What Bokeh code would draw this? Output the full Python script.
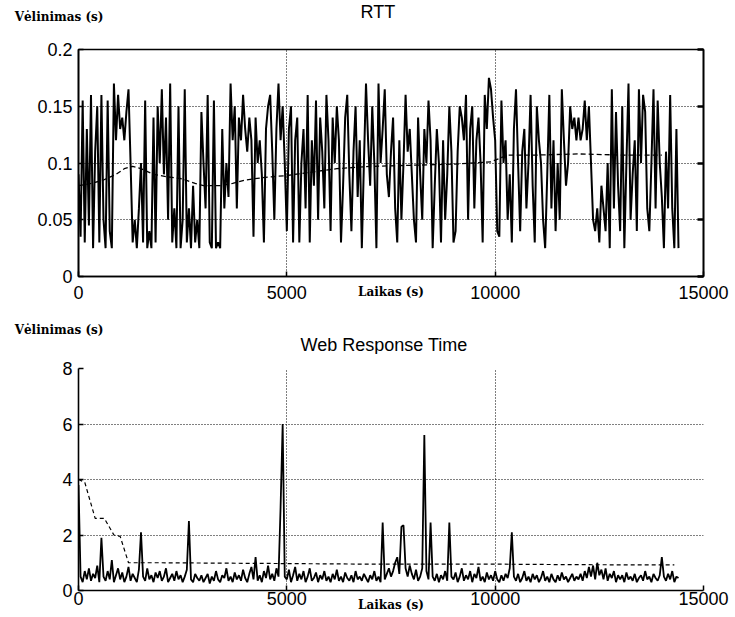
from bokeh.plotting import figure
from bokeh.layouts import column
from bokeh.models import Range1d, FixedTicker, LinearAxis, CustomJSTickFormatter
from bokeh.core.properties import value
from bokeh.embed import file_html
from bokeh.resources import INLINE

# ---------------- data ----------------
t_step = 50  # seconds between samples

rtt = [
    0.09, 0.035, 0.155, 0.03, 0.13, 0.045, 0.16, 0.025, 0.11, 0.15, 0.03, 0.16, 0.05, 0.025, 0.155, 0.04, 0.025, 0.17, 0.12, 0.16,
    0.13, 0.14, 0.12, 0.145, 0.165, 0.1, 0.03, 0.05, 0.025, 0.06, 0.1, 0.03, 0.155, 0.025, 0.04, 0.025, 0.14, 0.03, 0.15, 0.1,
    0.165, 0.09, 0.14, 0.05, 0.17, 0.03, 0.06, 0.025, 0.15, 0.025, 0.05, 0.165, 0.03, 0.06, 0.025, 0.08, 0.03, 0.05, 0.025, 0.145,
    0.1, 0.06, 0.16, 0.03, 0.025, 0.155, 0.025, 0.03, 0.025, 0.13, 0.06, 0.1, 0.07, 0.17, 0.12, 0.15, 0.06, 0.14, 0.12, 0.16,
    0.13, 0.11, 0.14, 0.12, 0.035, 0.14, 0.1, 0.12, 0.09, 0.03, 0.13, 0.15, 0.16, 0.11, 0.05, 0.13, 0.17, 0.12, 0.15, 0.1,
    0.04, 0.13, 0.15, 0.03, 0.12, 0.14, 0.03, 0.1, 0.13, 0.06, 0.16, 0.03, 0.12, 0.08, 0.155, 0.05, 0.14, 0.11, 0.06, 0.16,
    0.12, 0.04, 0.14, 0.1, 0.15, 0.12, 0.03, 0.08, 0.14, 0.16, 0.09, 0.04, 0.11, 0.15, 0.07, 0.12, 0.025, 0.1, 0.17, 0.12,
    0.08, 0.15, 0.1, 0.025, 0.17, 0.1, 0.13, 0.165, 0.09, 0.07, 0.11, 0.14, 0.06, 0.03, 0.12, 0.05, 0.1, 0.16, 0.11, 0.13,
    0.09, 0.05, 0.03, 0.14, 0.09, 0.05, 0.13, 0.1, 0.155, 0.12, 0.025, 0.08, 0.13, 0.1, 0.03, 0.12, 0.05, 0.09, 0.15, 0.11,
    0.03, 0.04, 0.11, 0.15, 0.14, 0.12, 0.16, 0.05, 0.13, 0.15, 0.06, 0.12, 0.14, 0.1, 0.03, 0.16, 0.13, 0.175, 0.165, 0.14,
    0.12, 0.04, 0.035, 0.155, 0.1, 0.12, 0.05, 0.09, 0.03, 0.13, 0.165, 0.1, 0.04, 0.11, 0.13, 0.06, 0.1, 0.16, 0.08, 0.03,
    0.15, 0.12, 0.1, 0.05, 0.025, 0.09, 0.16, 0.06, 0.12, 0.04, 0.1, 0.05, 0.165, 0.12, 0.08, 0.1, 0.15, 0.13, 0.14, 0.12,
    0.14, 0.12, 0.13, 0.155, 0.12, 0.15, 0.1, 0.05, 0.04, 0.06, 0.03, 0.08, 0.06, 0.04, 0.1, 0.025, 0.165, 0.06, 0.145, 0.08,
    0.04, 0.15, 0.025, 0.1, 0.17, 0.05, 0.09, 0.12, 0.04, 0.165, 0.1, 0.16, 0.145, 0.06, 0.04, 0.1, 0.165, 0.06, 0.155, 0.1,
    0.07, 0.025, 0.11, 0.06, 0.16, 0.06, 0.025, 0.13, 0.025,
]
rtt_t = [i * t_step for i in range(len(rtt))]

rtt_avg_t = [0, 300, 600, 900, 1100, 1300, 1500, 1800, 2100, 2500, 2800, 3000, 3400, 3700, 4000,
             4400, 5000, 5600, 6200, 7000, 8000, 9000, 9900, 10100, 10300, 11000, 12000, 13000, 14000]
rtt_avg = [0.08, 0.082, 0.085, 0.09, 0.095, 0.097, 0.095, 0.09, 0.088, 0.086, 0.082, 0.08, 0.08, 0.082, 0.085,
           0.087, 0.089, 0.092, 0.095, 0.097, 0.098, 0.099, 0.101, 0.104, 0.107, 0.107, 0.108, 0.107, 0.107]

web = [
    3.8, 0.5, 0.3, 0.7, 0.4, 0.8, 0.35, 0.6, 0.45, 0.9, 0.3, 1.9, 0.5, 0.35, 0.7, 0.4, 1.1, 0.3, 0.55, 0.8,
    0.4, 0.65, 0.3, 0.5, 0.85, 0.35, 0.6, 0.45, 0.3, 0.75, 2.1, 0.5, 0.35, 0.8, 0.4, 0.55, 0.3, 0.65, 0.45, 0.7,
    0.35, 0.5, 0.8, 0.3, 0.45, 0.6, 0.35, 0.7, 0.4, 0.55, 0.3, 0.5, 0.75, 2.5, 0.4, 0.3, 0.6, 0.45, 0.35, 0.55,
    0.3, 0.45, 0.6, 0.25, 0.5, 0.35, 0.7, 0.4, 0.3, 0.55, 0.45, 0.8, 0.35, 0.5, 0.3, 0.65, 0.4, 0.55, 0.35, 0.75,
    0.45, 0.3, 0.6, 0.85, 0.4, 1.2, 0.35, 0.55, 0.3, 0.7, 0.45, 0.9, 0.4, 0.6, 0.35, 0.8, 0.5, 3.0, 6.0, 0.5,
    0.4, 0.75, 0.3, 0.55, 0.85, 0.35, 0.6, 0.4, 0.7, 0.3, 0.5, 0.8, 0.35, 0.45, 0.65, 0.3, 0.55, 0.4, 0.7, 0.35,
    0.5, 0.3, 0.6, 0.4, 0.75, 0.35, 0.5, 0.3, 0.65, 0.45, 0.35, 0.55, 0.3, 0.7, 0.4, 0.5, 0.35, 0.6, 0.45, 0.3,
    0.55, 0.4, 0.7, 0.35, 0.5, 0.3, 2.45, 0.4, 0.6, 0.8, 0.5, 0.7, 1.0, 1.2, 0.6, 2.3, 2.35, 0.8, 0.5, 0.9,
    0.6, 0.4, 0.75, 0.35, 0.5, 0.8, 5.6, 0.7, 0.4, 2.45, 0.5, 0.35, 0.6, 0.3, 0.55, 0.4, 0.7, 0.35, 2.45, 0.5,
    0.4, 0.65, 0.3, 0.5, 0.8, 0.35, 0.55, 0.4, 0.7, 0.3, 0.6, 0.45, 0.85, 0.35, 0.5, 0.3, 0.65, 0.4, 0.55, 0.35,
    0.7, 0.4, 0.3, 0.55, 0.35, 0.6, 0.45, 0.8, 2.1, 0.5, 0.35, 0.6, 0.3, 0.45, 0.7, 0.35, 0.5, 0.3, 0.6, 0.4,
    0.55, 0.3, 0.45, 0.7, 0.35, 0.5, 0.3, 0.6, 0.4, 0.3, 0.55, 0.35, 0.65, 0.4, 0.5, 0.3, 0.45, 0.6, 0.35, 0.5,
    0.4, 0.6, 0.35, 0.7, 0.45, 0.85, 0.5, 0.9, 0.4, 1.0, 0.55, 0.75, 0.4, 0.8, 0.35, 0.6, 0.45, 0.7, 0.3, 0.55,
    0.4, 0.55, 0.3, 0.65, 0.4, 0.5, 0.35, 0.6, 0.3, 0.45, 0.55, 0.35, 0.7, 0.4, 0.5, 0.3, 0.6, 0.45, 0.35, 0.55,
    1.2, 0.5, 0.35, 0.6, 0.4, 0.7, 0.3, 0.5, 0.45,
]
web_t = [i * t_step for i in range(len(web))]

web_avg_t = [0, 150, 400, 620, 850, 1000, 1200, 2000, 5000, 7000, 10000, 12000, 14300]
web_avg = [4.0, 3.9, 2.6, 2.6, 2.0, 1.95, 1.0, 1.0, 0.97, 0.95, 0.95, 0.93, 0.92]

x_ticks = [0, 5000, 10000, 15000]
rtt_ticks = [0, 0.05, 0.1, 0.15, 0.2]
web_ticks = [0, 2, 4, 6, 8]

titles = ["RTT", "Web Response Time"]
y_label = "Vėlinimas (s)"
x_label = "Laikas (s)"

SANS = "Liberation Sans"
SERIF = "DejaVu Serif"
W = 735
FRAME_L, FRAME_R = 78, 703   # page x of the plot frames


def header(h, top, title, title_x, title_y):
    """Strip above a chart: the title as text in a frame whose units equal page pixels,
    and the y-axis caption as a horizontal axis label of an empty left axis."""
    f = figure(width=W, height=h, output_backend="svg", toolbar_location=None,
               x_range=Range1d(FRAME_L, FRAME_R), y_range=Range1d(top + h, top),
               x_axis_type=None, y_axis_type=None,
               min_border_left=FRAME_L, min_border_right=W - FRAME_R,
               min_border_top=0, min_border_bottom=0)
    f.outline_line_color = None
    f.background_fill_color = "white"
    f.border_fill_color = "white"
    f.grid.visible = False
    ax = LinearAxis(ticker=FixedTicker(ticks=[]), axis_line_color=None,
                    major_tick_line_color=None, minor_tick_line_color=None,
                    major_tick_out=0, major_tick_in=0, major_label_standoff=0,
                    axis_label=y_label, axis_label_text_font=SERIF,
                    axis_label_text_font_style="bold", axis_label_text_font_size="12px",
                    axis_label_text_color="black", axis_label_standoff=-25)
    try:
        ax.axis_label_orientation = "horizontal"
    except AttributeError:
        pass
    f.add_layout(ax, "left")
    f.text(x=[title_x], y=[title_y], text=[title], text_font=value(SANS), text_font_size="18px",
           text_color="black", text_align="left", text_baseline="middle")
    return f


def style_chart(p, yticks, x_label_standoff):
    p.xaxis.ticker = FixedTicker(ticks=x_ticks)
    p.yaxis.ticker = FixedTicker(ticks=yticks)
    p.yaxis.formatter = CustomJSTickFormatter(code="return tick.toString();")
    for ax in (p.xaxis[0], p.yaxis[0]):
        ax.major_label_text_font = SANS
        ax.major_label_text_font_size = "18px"
        ax.major_label_text_color = "black"
        ax.axis_line_color = "black"
        ax.axis_line_width = 1.6
        ax.major_tick_line_color = "black"
        ax.major_tick_line_width = 1.5
        ax.major_tick_in = 5
        ax.major_tick_out = 0
        ax.minor_tick_line_color = None
    p.yaxis.major_label_standoff = 6
    p.xaxis.axis_label = x_label
    p.xaxis.axis_label_text_font = SERIF
    p.xaxis.axis_label_text_font_style = "bold"
    p.xaxis.axis_label_text_font_size = "12px"
    p.xaxis.axis_label_text_color = "black"
    p.xaxis.axis_label_standoff = x_label_standoff
    p.xgrid.ticker = FixedTicker(ticks=x_ticks)
    p.ygrid.ticker = FixedTicker(ticks=yticks)
    for g in (p.xgrid[0], p.ygrid[0]):
        g.grid_line_color = "black"
        g.grid_line_dash = "1 2"
        g.grid_line_width = 1.1
    p.background_fill_color = "white"
    p.border_fill_color = "white"


# ---------------- RTT ----------------
h1 = header(32, 0, titles[0], 360, 11)

p1 = figure(width=W, height=272, output_backend="svg", toolbar_location=None,
            x_range=Range1d(0, 15000), y_range=Range1d(0, 0.2),
            min_border_left=FRAME_L, min_border_right=W - FRAME_R, min_border_top=17, min_border_bottom=28)
p1.outline_line_color = "black"
p1.outline_line_width = 1.6
style_chart(p1, rtt_ticks, -17)
p1.xaxis.major_label_standoff = 9
right_ax = LinearAxis(ticker=FixedTicker(ticks=rtt_ticks), major_label_text_font_size="8px",
                      major_label_text_color=None, major_tick_in=6, major_tick_out=0,
                      major_tick_line_width=2.5, axis_line_color="black", axis_line_width=1.6,
                      minor_tick_line_color=None)
p1.add_layout(right_ax, "right")

p1.line(rtt_t, rtt, line_color="black", line_width=2.0)
p1.line(rtt_avg_t, rtt_avg, line_color="black", line_width=1.3, line_dash="5 3")

# ---------------- Web Response Time ----------------
h2 = header(50, 304, titles[1], 300, 344)

p2 = figure(width=W, height=263, output_backend="svg", toolbar_location=None,
            x_range=Range1d(0, 15000), y_range=Range1d(0, 8),
            min_border_left=FRAME_L, min_border_right=W - FRAME_R, min_border_top=14, min_border_bottom=27)
p2.outline_line_color = None
style_chart(p2, web_ticks, -10)
p2.xaxis.major_label_standoff = 1

p2.line(web_t, web, line_color="black", line_width=1.8)
p2.line(web_avg_t, web_avg, line_color="black", line_width=1.2, line_dash="4 3")

layout = column(h1, p1, h2, p2, spacing=0)
open("out.html", "w").write(file_html(layout, INLINE))
